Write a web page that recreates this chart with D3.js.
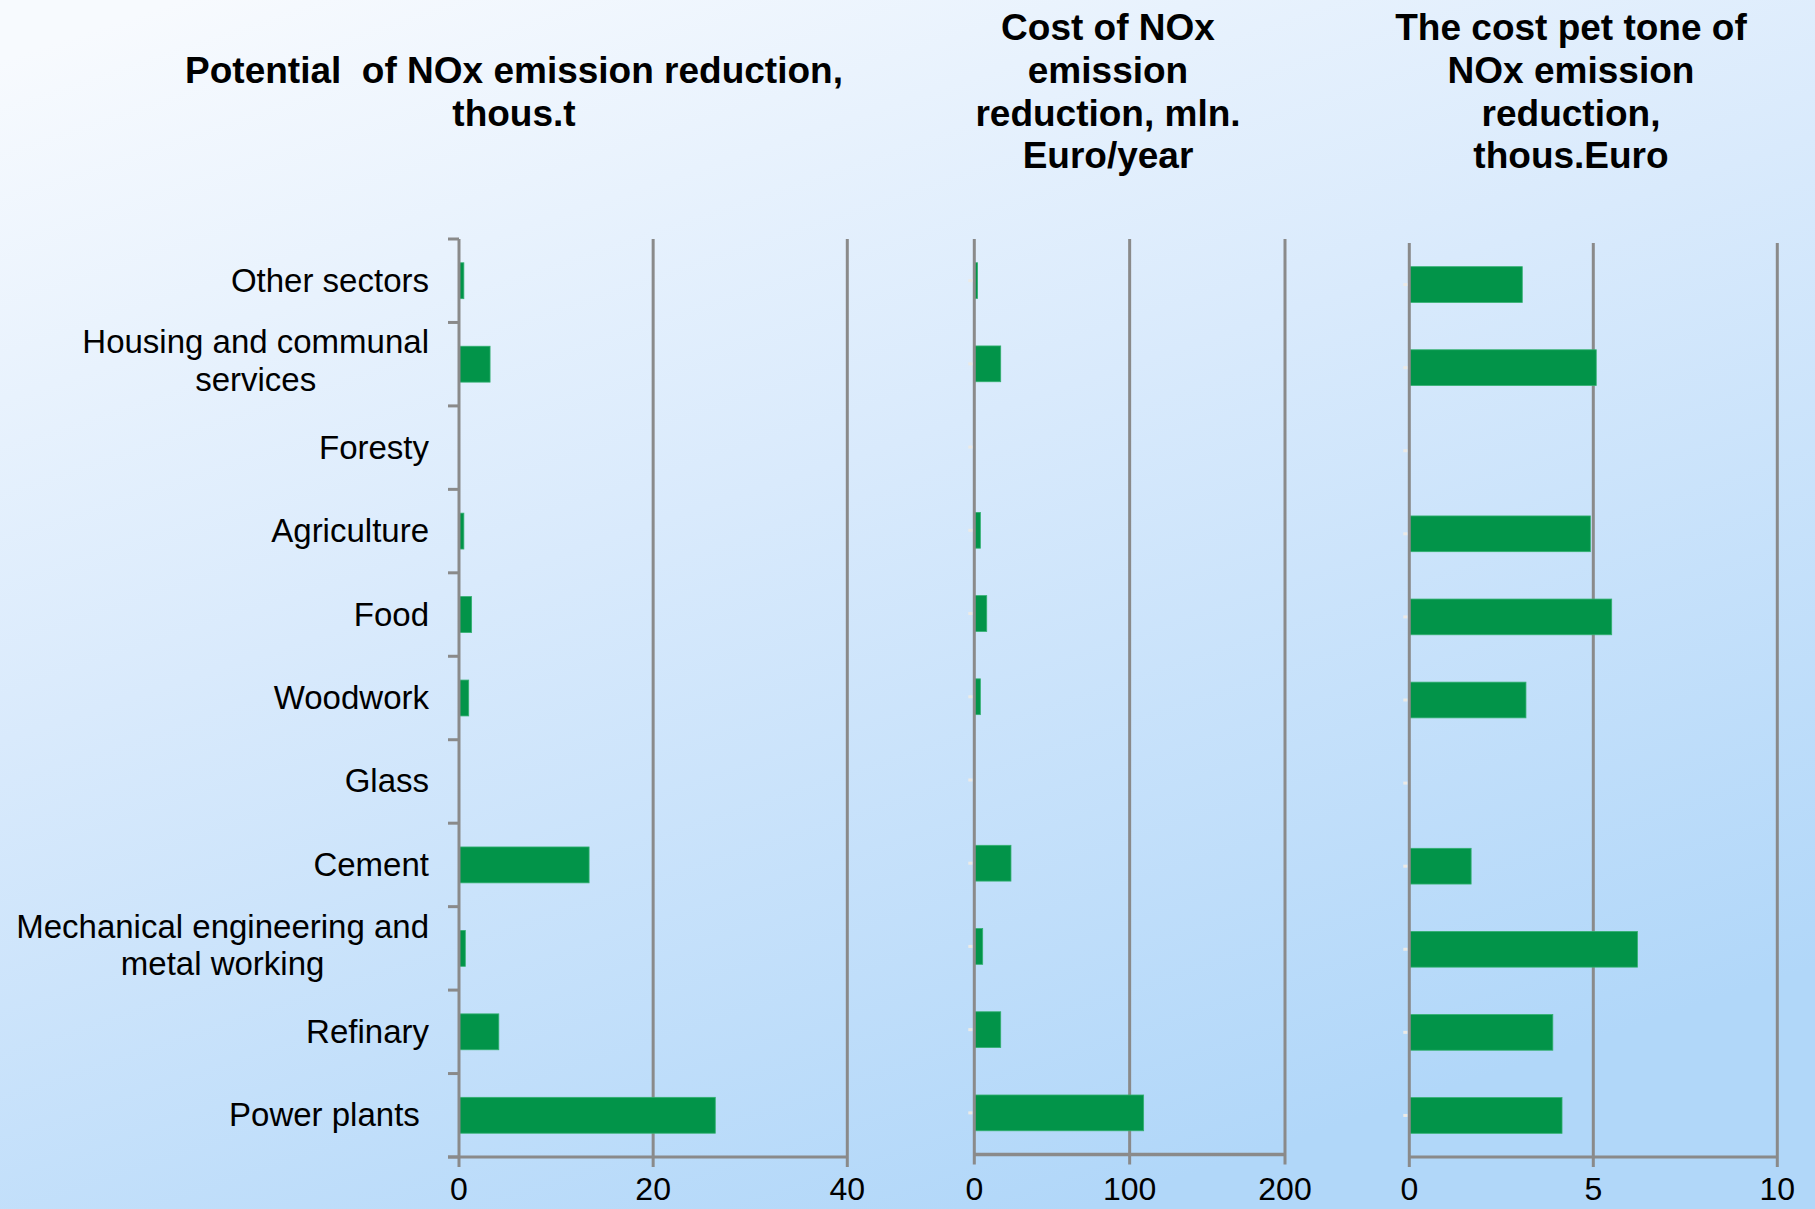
<!DOCTYPE html>
<html>
<head>
<meta charset="utf-8">
<script src="https://cdn.jsdelivr.net/npm/d3@7"></script>
<style>
  html, body { margin: 0; padding: 0; overflow: hidden; }
  svg { display: block; }
  text { font-family: "Liberation Sans", Arial, sans-serif; fill: #000; }
</style>
</head>
<body>
<script>
// Sectors, top to bottom
const sectors = [
  "Other sectors",
  "Housing and communal|services",
  "Foresty",
  "Agriculture",
  "Food",
  "Woodwork",
  "Glass",
  "Cement",
  "Mechanical engineering and|metal working",
  "Refinary",
  "Power plants "
];

// Potential of NOx emission reduction, thous. t
const potential = [0.5, 3.2, 0, 0.5, 1.3, 1.0, 0, 13.4, 0.65, 4.1, 26.4];
// Cost of NOx emission reduction, mln. Euro/year
const cost = [2.1, 17, 0, 3.9, 8, 3.9, 0, 23.6, 5.4, 17, 109];
// Cost per tonne of NOx emission reduction, thous. Euro
const costPerTonne = [3.07, 5.08, 0, 4.92, 5.5, 3.17, 0, 1.68, 6.2, 3.9, 4.15];

const potentialTicks = [0, 20, 40];
const costTicks = [0, 100, 200];
const costPerTonneTicks = [0, 5, 10];

const potentialTitle = ["Potential  of NOx emission reduction,", "thous.t"];
const costTitle = ["Cost of NOx", "emission", "reduction, mln.", "Euro/year"];
const costPerTonneTitle = ["The cost pet tone of", "NOx emission", "reduction,", "thous.Euro"];

const W = 1815, H = 1209;
const svg = d3.select("body").append("svg").attr("width", W).attr("height", H);

// Pale sky background
const defs = svg.append("defs");
const grad = defs.append("linearGradient").attr("id", "bg")
  .attr("x1", "0.1").attr("y1", "0").attr("x2", "0.6").attr("y2", "1");
grad.append("stop").attr("offset", "0").attr("stop-color", "#f7fafe");
grad.append("stop").attr("offset", "0.45").attr("stop-color", "#d9eafc");
grad.append("stop").attr("offset", "1").attr("stop-color", "#b1d7f9");
svg.append("rect").attr("width", W).attr("height", H).attr("fill", "url(#bg)");

const AXIS = "#8a8a8a";
const BAR = "#029449";

const panels = [
  { values: potential, domain: [0, 40], ticks: potentialTicks, x0: 459, x1: 847.3, top: 239, bottom: 1157,
    title: potentialTitle, titleX: 514, titleLine0: 1, outerTicks: true, baseW: 3 },
  { values: cost, domain: [0, 200], ticks: costTicks, x0: 974.3, x1: 1285, top: 239, bottom: 1154.5,
    title: costTitle, titleX: 1108, titleLine0: 0, outerTicks: false, baseW: 3.6 },
  { values: costPerTonne, domain: [0, 10], ticks: costPerTonneTicks, x0: 1409.3, x1: 1777.3, top: 243, bottom: 1157,
    title: costPerTonneTitle, titleX: 1571, titleLine0: 0, outerTicks: false, baseW: 3 }
];

const titleBase = 40, titleStep = 42.8;

panels.forEach((p, pi) => {
  const x = d3.scaleLinear().domain(p.domain).range([p.x0, p.x1]);
  const y = d3.scaleBand().domain(sectors).range([p.top, p.bottom])
    .paddingInner(0.57).paddingOuter(0.285);
  const step = y.step();
  const g = svg.append("g");

  // Vertical gridlines at each tick value
  g.selectAll("line.grid").data(p.ticks.slice(1)).join("line")
    .attr("x1", d => x(d)).attr("x2", d => x(d))
    .attr("y1", p.top).attr("y2", p.bottom + 10)
    .attr("stroke", AXIS).attr("stroke-width", 3);

  // Bars
  g.selectAll("rect.bar").data(sectors).join("rect")
    .attr("x", x(0))
    .attr("y", d => y(d))
    .attr("width", (d, i) => x(p.values[i]) - x(0))
    .attr("height", y.bandwidth())
    .attr("fill", BAR)
    .attr("stroke", (d, i) => p.values[i] > 0 ? "#33b070" : "none")
    .attr("stroke-width", 0.8);

  // Category axis
  g.append("line")
    .attr("x1", x(0)).attr("x2", x(0))
    .attr("y1", p.top).attr("y2", p.bottom + 10)
    .attr("stroke", AXIS).attr("stroke-width", 3);

  const bounds = d3.range(sectors.length + 1).map(i => p.top + i * step);
  if (p.outerTicks) {
    g.selectAll("line.ytick").data(bounds).join("line")
      .attr("x1", x(0) - 11).attr("x2", x(0))
      .attr("y1", d => d).attr("y2", d => d)
      .attr("stroke", AXIS).attr("stroke-width", 3);
  } else {
    // faint markers at each category centre
    g.selectAll("rect.ymark").data(sectors).join("rect")
      .attr("x", x(0) - 6).attr("width", 4)
      .attr("y", d => y(d) + y.bandwidth() / 2 - 1.5).attr("height", 3)
      .attr("fill", "#eceae6");
  }

  // Value axis
  g.append("line")
    .attr("x1", p.outerTicks ? x(0) - 11 : x(0)).attr("x2", x(p.domain[1]))
    .attr("y1", p.bottom).attr("y2", p.bottom)
    .attr("stroke", AXIS).attr("stroke-width", p.baseW);

  g.selectAll("text.xtick").data(p.ticks).join("text")
    .attr("x", d => x(d)).attr("y", 1200)
    .attr("text-anchor", "middle")
    .style("font-size", "32px")
    .text(d => d);

  // Panel title
  const t = g.append("text").attr("text-anchor", "middle")
    .style("font-size", "37px").style("font-weight", "bold");
  p.title.forEach((line, li) => {
    t.append("tspan").attr("x", p.titleX)
      .attr("y", titleBase + (p.titleLine0 + li) * titleStep)
      .style("white-space", "pre")
      .text(line);
  });

  // Sector labels on the first panel
  if (pi === 0) {
    const right = 429;
    sectors.forEach(s => {
      const lines = s.split("|");
      const cy = y(s) + y.bandwidth() / 2;
      const lg = g.append("g");
      const texts = lines.map((ln, li) => lg.append("text")
        .style("font-size", "33px")
        .style("white-space", "pre")
        .attr("y", cy + 11 + (li - (lines.length - 1) / 2) * 37.6 - (lines.length > 1 ? 3 : 0))
        .text(ln));
      if (lines.length === 1) {
        texts[0].attr("x", right).attr("text-anchor", "end");
      } else {
        const maxW = d3.max(texts, tt => tt.node().getComputedTextLength());
        texts.forEach(tt => tt.attr("x", right - maxW / 2).attr("text-anchor", "middle"));
      }
    });
  }
});
</script>
</body>
</html>
